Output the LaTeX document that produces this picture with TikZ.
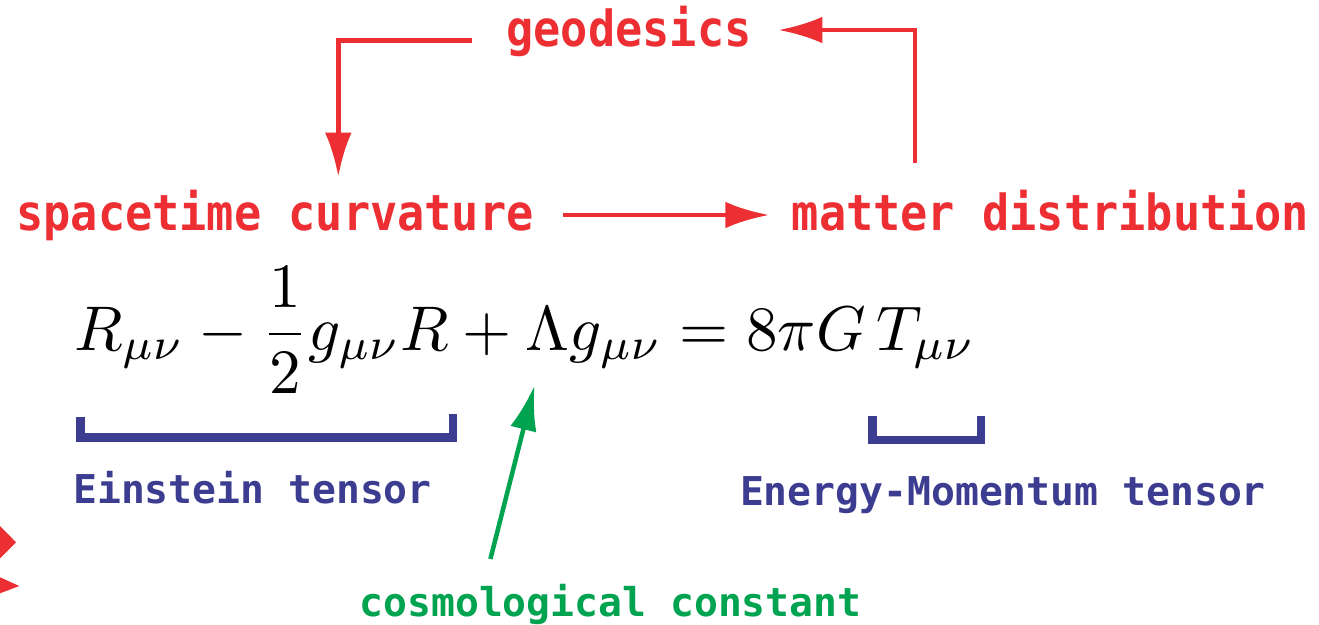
\documentclass[tikz,border=0pt]{standalone}
\usepackage{fontspec}
\usepackage{graphicx}
\usetikzlibrary{arrows.meta}
\newfontfamily\redmono{DejaVu Sans Mono}[FakeStretch=0.91]
\newfontfamily\bluemono{DejaVu Sans Mono}
\definecolor{myred}{RGB}{237,46,50}
\definecolor{myblue}{RGB}{60,60,145}
\definecolor{mygreen}{RGB}{0,163,80}
\tikzset{
  redlabel/.style={inner sep=0pt, anchor=base, text=myred, font=\redmono\bfseries\fontsize{49.7}{55}\selectfont},
  bluelabel/.style={inner sep=0pt, anchor=base, text=myblue, font=\bluemono\bfseries\fontsize{39.7}{45}\selectfont},
  greenlabel/.style={inner sep=0pt, anchor=base, text=mygreen, font=\bluemono\bfseries\fontsize{39.7}{45}\selectfont},
  redarrow/.style={draw=myred, line width=4.7pt, -{Latex[length=44pt,width=26.6pt]}},
  greenarrow/.style={draw=mygreen, line width=4.5pt, -{Latex[length=45pt,width=26.8pt]}},
  bracket/.style={draw=myblue, line width=8.5pt, line join=miter, line cap=butt},
  tipfill/.style={fill=myred, draw=none}
}
\begin{document}
\begin{tikzpicture}[x=1pt,y=-1pt]
\useasboundingbox (0,0) rectangle (1319,624);
\fill[white] (0,0) rectangle (1319,624);
% labels
\node[redlabel] (geo) at (629,46.7) {geodesics};
\node[redlabel] (sc) at (275,230) {spacetime curvature};
\node[redlabel] (md) at (1050.5,230) {matter distribution};
\node[bluelabel] (et) at (252.5,503) {Einstein tensor};
\node[bluelabel] (emt) at (1003,505) {Energy-Momentum tensor};
\node[greenlabel] (cc) at (610.5,616) {cosmological constant};
% equation
\node[anchor=base west, inner sep=0pt] (eq) at (74,350)
  {\resizebox{901pt}{!}{$\displaystyle R_{\mu\nu}-\frac{1}{2}g_{\mu\nu}R+\Lambda g_{\mu\nu}=8\pi G\,T_{\mu\nu}$}};
% red connectors
\coordinate (g1) at (471.7,40.7);
\coordinate (g2) at (338.3,176.7);
\draw[redarrow] (g1) -| (g2);
\coordinate (s1) at (563.3,215);
\coordinate (m1) at (769.3,215);
\draw[redarrow] (s1) -- (m1);
\coordinate (m2) at (915,163.3);
\coordinate (g3) at (778.3,30);
\draw[redarrow] (m2) |- (g3);
% brackets
\coordinate (b1) at (80.5,416.7);
\coordinate (b2) at (453,414);
\draw[bracket] (b1) |- (453,437.5) -- (b2);
\coordinate (b3) at (872.7,416);
\coordinate (b4) at (981.2,416);
\draw[bracket] (b3) |- (981.2,440) -- (b4);
% green arrow
\coordinate (c1) at (490.4,559);
\coordinate (c2) at (534.5,385.5);
\draw[greenarrow] (c1) -- (c2);
% partial arrow tips at left edge
\fill[tipfill] (0,526) -- (16,542.3) -- (0,558.3) -- cycle;
\fill[tipfill] (0,577.3) -- (19.3,586) -- (0,593.3) -- cycle;
\end{tikzpicture}
\end{document}
